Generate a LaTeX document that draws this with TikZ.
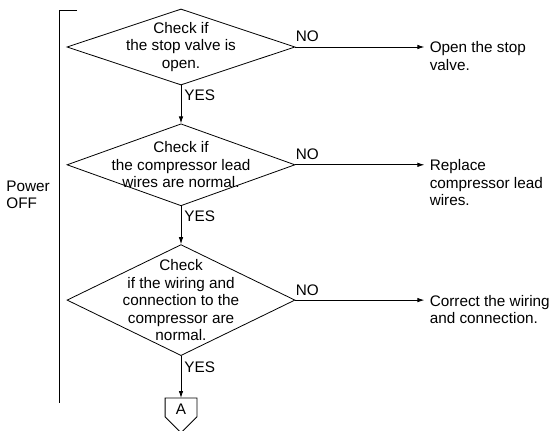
\documentclass[tikz,border=0pt]{standalone}
\usepackage{fontspec}
\setmainfont{Liberation Sans}
\usetikzlibrary{shapes.geometric, arrows.meta, positioning}
\newcommand{\chartfont}{\fontsize{15.3pt}{17.5pt}\selectfont}

\begin{document}
\begin{tikzpicture}[
    x=1pt, y=-1pt,
    line width=0.8pt,
    decision/.style={draw, diamond, minimum width=228pt, inner sep=0pt},
    qtext/.style={align=center, inner sep=0pt, font=\chartfont},
    act/.style={align=left, inner sep=0pt, font=\chartfont},
    conn/.style={rectangle, minimum width=31pt, minimum height=22pt, inner sep=0pt, font=\chartfont},
    arrow/.style={-{Latex[length=7pt, width=4.5pt]}},
    yes/.style={pos=0.26, anchor=west, inner sep=3pt, font=\chartfont},
    no/.style={pos=0, anchor=south west, inner xsep=0pt, inner ysep=4.5pt, font=\chartfont}
]
\useasboundingbox (0,0) rectangle (555,431);

% Decisions
\node [decision, minimum height=76pt] (q1) at (181,47) {};
\node [qtext] (q1txt) at (q1) {Check if\\the stop valve is\\open.};
\node [decision, minimum height=82pt, below=38pt of q1] (q2) {};
\node [qtext] (q2txt) at (q2) {Check if\\the compressor lead\\wires are normal.};
\node [decision, minimum height=111pt, below=38pt of q2] (q3) {};
\node [qtext] (q3txt) at (q3) {Check\\if the wiring and\\connection to the\\compressor are\\normal.};

% Off-page connector
\node [conn, below=42pt of q3] (conA) {A};
\draw ([yshift=4pt]conA.south west) -- (conA.north west) -- (conA.north east)
      -- ([yshift=4pt]conA.south east) -- ([yshift=-12pt]conA.south) -- cycle;

% Actions
\node [act, right=134pt of q1.east, anchor=north west, yshift=5.5pt] (act1) {Open the stop\\valve.};
\node [act, right=134pt of q2.east, anchor=north west, yshift=5.5pt] (act2) {Replace\\compressor lead\\wires.};
\node [act, right=134pt of q3.east, anchor=north west, yshift=5.5pt] (act3) {Correct the wiring\\and connection.};

% Power bracket
\node [act, anchor=west] (pwr) at (6,195) {Power\\OFF};
\draw (77,10) -- (59,10) -- (59,403);

% Arrows
\draw [arrow] (q1.south) -- node[yes] {YES} (q2.north);
\draw [arrow] (q2.south) -- node[yes] {YES} (q3.north);
\draw [arrow] (q3.south) -- node[yes] {YES} (conA.north);

\draw [arrow, shorten >=5pt] (q1.east) -- node[no] {NO} (q1.east -| act1.west);
\draw [arrow, shorten >=5pt] (q2.east) -- node[no] {NO} (q2.east -| act2.west);
\draw [arrow, shorten >=5pt] (q3.east) -- node[no] {NO} (q3.east -| act3.west);

\end{tikzpicture}
\end{document}
